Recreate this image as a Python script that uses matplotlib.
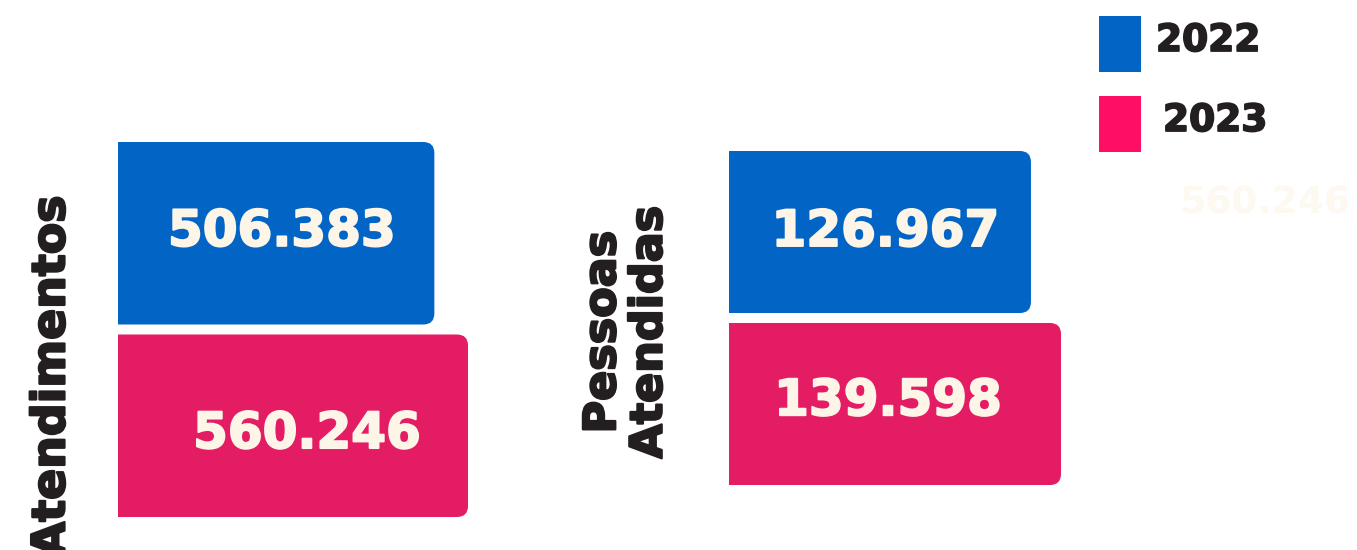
import matplotlib
matplotlib.use("Agg")
import matplotlib.pyplot as plt
import matplotlib.patheffects as pe
from matplotlib.patches import FancyBboxPatch, Rectangle

# ---- data ----
years = ["2022", "2023"]
atendimentos = [506383, 560246]
pessoas = [126967, 139598]
labels_at = ["506.383", "560.246"]
labels_pe = ["126.967", "139.598"]
group_titles = ["Atendimentos", "Pessoas\nAtendidas"]
ghost_label = "560.246"

# ---- style ----
BAR_COLORS = ["#0265C6", "#E31C64"]
LEG_COLORS = ["#0265C6", "#FF0E66"]
TXT_LIGHT = "#FDF5E8"
TXT_DARK = "#231F20"
W, H = 1357, 550
DPI = 100

fig = plt.figure(figsize=(W / DPI, H / DPI), dpi=DPI)
fig.patch.set_facecolor("white")


def heavy(color, lw=1.4):
    return [pe.withStroke(linewidth=lw, foreground=color)]


def px_axes(x0, y0, x1, y1):
    """axes from pixel box (top-left origin)"""
    return fig.add_axes([x0 / W, (H - y1) / H, (x1 - x0) / W, (y1 - y0) / H])


def draw_group(ax, values, labels, height, text_offsets, radius_px=11):
    ypos = list(range(len(values)))
    bars = ax.barh(ypos, values, height=height, color=BAR_COLORS)
    ax.set_xlim(0, max(values))
    half = height / 2
    ax.set_ylim(len(values) - 1 + half, -half)
    ax.axis("off")
    fig.canvas.draw()
    bb = ax.get_window_extent()
    xpp = (ax.get_xlim()[1] - ax.get_xlim()[0]) / bb.width
    ypp = abs(ax.get_ylim()[1] - ax.get_ylim()[0]) / bb.height
    r = radius_px * xpp
    for b, col, lab, (dx, dy) in zip(bars, BAR_COLORS, labels, text_offsets):
        b.set_visible(False)
        x, y, w, h = b.get_x(), b.get_y(), b.get_width(), b.get_height()
        p = FancyBboxPatch((x - 3 * r, y), w + 3 * r, h,
                           boxstyle=f"round,pad=0,rounding_size={r}",
                           mutation_aspect=ypp / xpp,
                           facecolor=col, edgecolor="none", clip_on=True)
        ax.add_patch(p)
        ax.annotate(lab, (x + w / 2, y + h / 2), xytext=(dx, dy),
                    textcoords="offset points", ha="center", va="center",
                    fontsize=36, fontweight="bold", color=TXT_LIGHT,
                    family="DejaVu Sans", path_effects=heavy(TXT_LIGHT, 1.4))


ax1 = px_axes(118, 142, 118 + 350, 517)
draw_group(ax1, atendimentos, labels_at, 0.948, [(4, 1), (10, -6)])

ax2 = px_axes(729, 151, 729 + 332, 485)
draw_group(ax2, pessoas, labels_pe, 0.942, [(4, 0), (-5, 2)])

# group titles
fig.text(52 / W, (H - 195) / H, group_titles[0], rotation=90, ha="center",
         va="top", fontsize=33, fontweight="bold", color=TXT_DARK,
         path_effects=heavy(TXT_DARK, 1.6))
fig.text(626 / W, (H - 332) / H, group_titles[1], rotation=90, ha="center",
         va="center", fontsize=32, fontweight="bold", color=TXT_DARK,
         multialignment="center", linespacing=1.1,
         path_effects=heavy(TXT_DARK, 1.6))

# legend (manual)
leg_boxes = [(1099, 16, 1141, 72), (1099, 96, 1141, 152)]
leg_text_x = [1156, 1163]
for (x0, y0, x1, y1), col, yr, tx in zip(leg_boxes, LEG_COLORS, years, leg_text_x):
    fig.patches.append(Rectangle((x0 / W, (H - y1) / H), (x1 - x0) / W, (y1 - y0) / H,
                                 transform=fig.transFigure, facecolor=col,
                                 edgecolor="none"))
    fig.text(tx / W, (H - (y0 + y1) / 2 + 3) / H, yr, ha="left", va="center",
             fontsize=27, fontweight="bold", color=TXT_DARK,
             path_effects=heavy(TXT_DARK, 1.3))

# faint leftover label
fig.text(1265 / W, (H - 204) / H, ghost_label, ha="center", va="center",
         fontsize=27, fontweight="bold", color="#FDF4E6", alpha=0.6)

fig.savefig("out.png", dpi=DPI, facecolor="white")
